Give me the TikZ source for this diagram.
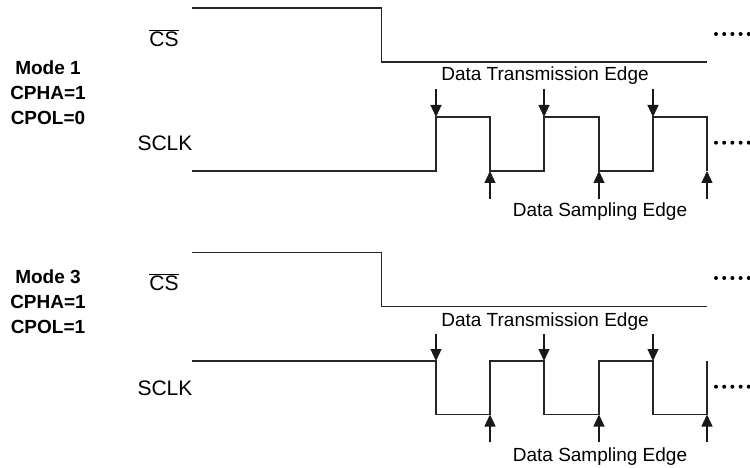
\documentclass[tikz,border=0pt]{standalone}
\usepackage{fontspec}
\setmainfont{Liberation Sans}
\usetikzlibrary{arrows.meta}
\begin{document}
\begin{tikzpicture}[x=1pt,y=-1pt,
  wave/.style={line width=1.5pt, draw=black!85},
  edgearrow/.style={line width=1.3pt, draw=black!90, -{Triangle[width=11pt,length=12pt]}},
  siglabel/.style={font=\fontsize{21}{24}\selectfont, inner sep=0pt},
  note/.style={font=\fontsize{19}{22}\selectfont, inner sep=0pt},
  modelabel/.style={font=\fontsize{19}{25}\selectfont\bfseries, align=center, inner sep=0pt},
  dotmark/.style={circle, fill=black, inner sep=0pt, minimum size=4pt}]
\useasboundingbox (0,0) rectangle (750,468);

% ---------------- Mode 1 ----------------
\node[modelabel] (m1) at (48,93) {Mode 1\\CPHA=1\\CPOL=0};
\node[siglabel] (t-cslab) at (164,38) {$\overline{\mbox{CS}}$};
\node[siglabel] (t-sclklab) at (165,143) {SCLK};

\coordinate (t-cs0) at (192,8);
\coordinate (t-cs1) at (381.7,62);
\coordinate (t-cs2) at (707,62);
\draw[wave] (t-cs0) -| (t-cs1) -- (t-cs2);

\coordinate (t-ck0) at (192,171);
\coordinate (t-ck1) at (436,117);
\coordinate (t-ck2) at (490,171);
\coordinate (t-ck3) at (544,117);
\coordinate (t-ck4) at (599,171);
\coordinate (t-ck5) at (653,117);
\coordinate (t-ck6) at (707,171);
\draw[wave] (t-ck0) -| (t-ck1) -| (t-ck2) -| (t-ck3) -| (t-ck4) -| (t-ck5) -| (t-ck6);

\foreach \x [count=\i] in {436,544,653} {
  \coordinate (t-tx\i s) at (\x,89);
  \coordinate (t-tx\i e) at (\x,117);
  \draw[edgearrow] (t-tx\i s) -- (t-tx\i e);
}
\foreach \x [count=\i] in {490,599,707} {
  \coordinate (t-sm\i s) at (\x,198.5);
  \coordinate (t-sm\i e) at (\x,171);
  \draw[edgearrow] (t-sm\i s) -- (t-sm\i e);
}
\node[note] (t-txlab) at (545,76) {Data Transmission Edge};
\node[note] (t-smlab) at (600,212) {Data Sampling Edge};
\foreach \x [count=\i] in {716,724.2,732.4,740.6,748.8} {
  \node[dotmark] (t-da\i) at (\x,34) {};
  \node[dotmark] (t-db\i) at (\x,142.7) {};
}

% ---------------- Mode 3 ----------------
\node[modelabel] (m3) at (48,302) {Mode 3\\CPHA=1\\CPOL=1};
\node[siglabel] (b-cslab) at (164,282) {$\overline{\mbox{CS}}$};
\node[siglabel] (b-sclklab) at (165,388) {SCLK};

\coordinate (b-cs0) at (192,252.7);
\coordinate (b-cs1) at (381.7,306.7);
\coordinate (b-cs2) at (707,306.7);
\draw[wave] (b-cs0) -| (b-cs1) -- (b-cs2);

\coordinate (b-ck0) at (192,361);
\coordinate (b-ck1) at (436,414.5);
\coordinate (b-ck2) at (490,361);
\coordinate (b-ck3) at (544,414.5);
\coordinate (b-ck4) at (599,361);
\coordinate (b-ck5) at (653,414.5);
\coordinate (b-ck6) at (707,361);
\draw[wave] (b-ck0) -| (b-ck1) -| (b-ck2) -| (b-ck3) -| (b-ck4) -| (b-ck5) -| (b-ck6);

\foreach \x [count=\i] in {436,544,653} {
  \coordinate (b-tx\i s) at (\x,334);
  \coordinate (b-tx\i e) at (\x,361);
  \draw[edgearrow] (b-tx\i s) -- (b-tx\i e);
}
\foreach \x [count=\i] in {490,599,707} {
  \coordinate (b-sm\i s) at (\x,442);
  \coordinate (b-sm\i e) at (\x,414.5);
  \draw[edgearrow] (b-sm\i s) -- (b-sm\i e);
}
\node[note] (b-txlab) at (545,321.5) {Data Transmission Edge};
\node[note] (b-smlab) at (600,457) {Data Sampling Edge};
\foreach \x [count=\i] in {716,724.2,732.4,740.6,748.8} {
  \node[dotmark] (b-da\i) at (\x,278) {};
  \node[dotmark] (b-db\i) at (\x,386.7) {};
}
\end{tikzpicture}
\end{document}
